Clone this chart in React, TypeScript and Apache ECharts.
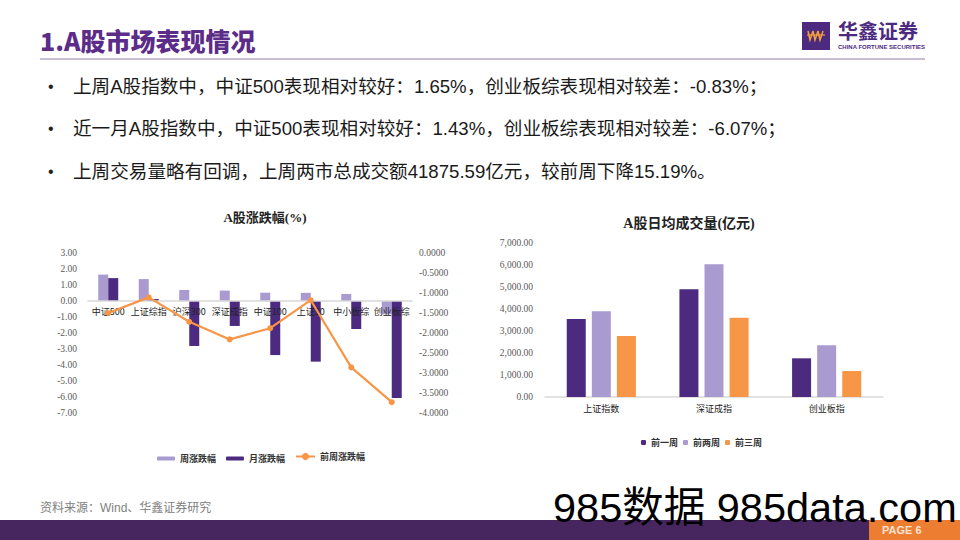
import React, { useEffect, useRef } from "react";
import * as echarts from "echarts";

// ---- Data ----
const perfCategories = ["中证500", "上证综指", "沪深300", "深证成指", "中证100", "上证50", "中小板综", "创业板综"];
const weekChange = [1.65, 1.37, 0.69, 0.65, 0.52, 0.51, 0.44, -0.83];
const monthChange = [1.43, 0.12, -2.81, -1.56, -3.38, -3.79, -1.75, -6.07];
const prevWeekChange = [-1.5, -1.11, -1.72, -2.16, -1.88, -1.18, -2.86, -3.73];
const perfSeriesNames = ["周涨跌幅", "月涨跌幅", "前周涨跌幅"];

const volCategories = ["上证指数", "深证成指", "创业板指"];
const volWeek1 = [3545, 4895, 1759];
const volWeek2 = [3895, 6032, 2350];
const volWeek3 = [2773, 3605, 1182];
const volSeriesNames = ["前一周", "前两周", "前三周"];

const bulletLines = [
  "上周A股指数中，中证500表现相对较好：1.65%，创业板综表现相对较差：-0.83%；",
  "近一月A股指数中，中证500表现相对较好：1.43%，创业板综表现相对较差：-6.07%；",
  "上周交易量略有回调，上周两市总成交额41875.59亿元，较前周下降15.19%。",
];

const DARK = "#4B2A7F";
const LIGHT = "#A99BCF";
const ORANGE = "#F79646";
const SERIF = "'Liberation Serif', 'Noto Sans CJK SC', serif";
const CJK = "'Noto Sans CJK SC', sans-serif";
const SANS = "'Liberation Sans', 'Noto Sans CJK SC', sans-serif";

export default function App() {
  const ref = useRef<HTMLDivElement>(null);
  useEffect(() => {
    if (!ref.current) return;
    const chart = echarts.init(ref.current, null, { renderer: "svg" });
    const fmtThousands = (v: number) =>
      v.toLocaleString("en-US", { minimumFractionDigits: 2, maximumFractionDigits: 2 });

    const graphics: any[] = [
      // header
      {
        type: "text", x: 40, y: 40,
        style: { text: "1.A股市场表现情况", fontSize: 25, fontWeight: 900, fontFamily: CJK, fill: "#5B2C88", verticalAlign: "middle", align: "left" },
      },
      { type: "line", shape: { x1: 40, y1: 59, x2: 925, y2: 59 }, style: { stroke: "#C8BFD5", lineWidth: 2 } },
      { type: "rect", shape: { x: 802, y: 22, width: 28, height: 28 }, style: { fill: DARK } },
      { type: "polyline", shape: { points: [[808, 31], [810, 40], [813, 31]] }, style: { stroke: "#F5A23A", lineWidth: 1.5, fill: null } },
      { type: "polyline", shape: { points: [[813, 31], [815, 40], [818, 31]] }, style: { stroke: "#F5A23A", lineWidth: 1.5, fill: null } },
      { type: "polyline", shape: { points: [[818, 31], [820, 40], [823, 31]] }, style: { stroke: "#F5A23A", lineWidth: 1.5, fill: null } },
      { type: "line", shape: { x1: 807, y1: 35, x2: 825, y2: 35 }, style: { stroke: "#F5A23A", lineWidth: 1.2 } },
      {
        type: "text", x: 838, y: 30,
        style: { text: "华鑫证券", fontSize: 20, fontWeight: "bold", fontFamily: CJK, fill: DARK, verticalAlign: "middle", align: "left" },
      },
      {
        type: "text", x: 838, y: 46.5,
        style: { text: "CHINA FORTUNE SECURITIES", fontSize: 6, fontWeight: "bold", fontFamily: SANS, fill: DARK, verticalAlign: "middle", align: "left" },
      },
      // chart titles
      {
        type: "text", x: 265, y: 217,
        style: { text: "A股涨跌幅(%)", fontSize: 13, fontWeight: "bold", fontFamily: SERIF, fill: "#222", verticalAlign: "middle", align: "center" },
      },
      {
        type: "text", x: 689, y: 223,
        style: { text: "A股日均成交量(亿元)", fontSize: 14, fontWeight: "bold", fontFamily: SERIF, fill: "#222", verticalAlign: "middle", align: "center" },
      },
      // footer
      {
        type: "text", x: 40, y: 508,
        style: { text: "资料来源：Wind、华鑫证券研究", fontSize: 12, fontFamily: SANS, fill: "#808080", verticalAlign: "middle", align: "left" },
      },
      { type: "rect", shape: { x: 0, y: 520, width: 960, height: 20 }, style: { fill: "#472660" } },
      { type: "rect", shape: { x: 869, y: 520, width: 91, height: 20 }, style: { fill: "#ED7D31" } },
      {
        type: "text", x: 882, y: 530,
        style: { text: "PAGE 6", fontSize: 11, fontWeight: "bold", fontFamily: SANS, fill: "#F8E3D3", verticalAlign: "middle", align: "left" },
      },
      {
        type: "text", x: 553, y: 507,
        style: { text: "985数据 985data.com", fontSize: 41.5, fontFamily: SANS, fill: "#000", verticalAlign: "middle", align: "left" },
      },
    ];
    bulletLines.forEach((line, i) => {
      const y = 86 + i * 42.5;
      graphics.push({
        type: "text", x: 48, y,
        style: { text: "•", fontSize: 16, fontFamily: SANS, fill: "#222", verticalAlign: "middle", align: "left" },
      });
      graphics.push({
        type: "text", x: 73, y,
        style: { text: line, fontSize: 18.6, fontFamily: SANS, fill: "#1A1A1A", verticalAlign: "middle", align: "left" },
      });
    });

    const labelStyle = { fontSize: 9.5, color: "#595959", fontFamily: SERIF };

    const option: any = {
      animation: false,
      backgroundColor: "#ffffff",
      textStyle: { fontFamily: SERIF },
      grid: [
        { left: 88, top: 253, width: 324, height: 160 },
        { left: 545, top: 243, width: 338, height: 154 },
      ],
      legend: [
        {
          data: [perfSeriesNames[0]], left: 152, top: 449, itemWidth: 18, itemHeight: 4, itemGap: 6,
          textStyle: { fontSize: 9, color: "#333", fontFamily: CJK, fontWeight: "bold" },
        },
        {
          data: [perfSeriesNames[1]], left: 221, top: 449, itemWidth: 18, itemHeight: 4,
          textStyle: { fontSize: 9, color: "#333", fontFamily: CJK, fontWeight: "bold" },
        },
        {
          data: [perfSeriesNames[2]], left: 290, top: 447, itemWidth: 19, itemHeight: 9,
          textStyle: { fontSize: 9, color: "#333", fontFamily: CJK, fontWeight: "bold" },
        },
        {
          data: volSeriesNames, left: 636, top: 433, itemWidth: 5, itemHeight: 5, itemGap: 5,
          textStyle: { fontSize: 9, color: "#333", fontFamily: CJK, fontWeight: "bold" },
        },
      ],
      xAxis: [
        {
          type: "category", gridIndex: 0, data: perfCategories, position: "bottom", offset: -112, z: 5,
          axisLine: { onZero: false, lineStyle: { color: "#D9D9D9", width: 1.5 } },
          axisTick: { show: false },
          axisLabel: { interval: 0, margin: 6, fontSize: 9, color: "#222", fontFamily: CJK },
        },
        {
          type: "category", gridIndex: 1, data: volCategories,
          axisLine: { lineStyle: { color: "#D9D9D9", width: 1.5 } },
          axisTick: { show: false },
          axisLabel: { interval: 0, margin: 7, fontSize: 9, color: "#222", fontFamily: CJK },
        },
      ],
      yAxis: [
        {
          type: "value", gridIndex: 0, min: -7, max: 3, interval: 1,
          axisLine: { show: false }, axisTick: { show: false }, splitLine: { show: false },
          axisLabel: { ...labelStyle, margin: 11, formatter: (v: number) => v.toFixed(2) },
        },
        {
          type: "value", gridIndex: 0, position: "right", min: -4, max: 0, interval: 0.5,
          axisLine: { show: false }, axisTick: { show: false }, splitLine: { show: false },
          axisLabel: { ...labelStyle, margin: 7, formatter: (v: number) => v.toFixed(4) },
        },
        {
          type: "value", gridIndex: 1, min: 0, max: 7000, interval: 1000,
          axisLine: { show: false }, axisTick: { show: false }, splitLine: { show: false },
          axisLabel: { ...labelStyle, margin: 12, formatter: fmtThousands },
        },
      ],
      series: [
        {
          name: perfSeriesNames[0], type: "bar", xAxisIndex: 0, yAxisIndex: 0, data: weekChange,
          barWidth: 10, barGap: "0%", itemStyle: { color: LIGHT },
        },
        {
          name: perfSeriesNames[1], type: "bar", xAxisIndex: 0, yAxisIndex: 0, data: monthChange,
          barWidth: 10, barGap: "0%", itemStyle: { color: DARK },
        },
        {
          name: perfSeriesNames[2], type: "line", xAxisIndex: 0, yAxisIndex: 1, data: prevWeekChange, z: 6,
          symbol: "circle", symbolSize: 6, itemStyle: { color: ORANGE }, lineStyle: { color: ORANGE, width: 2.2 },
        },
        {
          name: volSeriesNames[0], type: "bar", xAxisIndex: 1, yAxisIndex: 2, data: volWeek1,
          barWidth: 19, barGap: "32%", itemStyle: { color: DARK },
        },
        {
          name: volSeriesNames[1], type: "bar", xAxisIndex: 1, yAxisIndex: 2, data: volWeek2,
          barWidth: 19, barGap: "32%", itemStyle: { color: LIGHT },
        },
        {
          name: volSeriesNames[2], type: "bar", xAxisIndex: 1, yAxisIndex: 2, data: volWeek3,
          barWidth: 19, barGap: "32%", itemStyle: { color: ORANGE },
        },
      ],
      graphic: graphics,
    };
    chart.setOption(option);
    return () => chart.dispose();
  }, []);

  return (
    <div
      ref={ref}
      style={{ position: "fixed", left: 0, top: 0, width: 960, height: 540, background: "#fff" }}
    />
  );
}
